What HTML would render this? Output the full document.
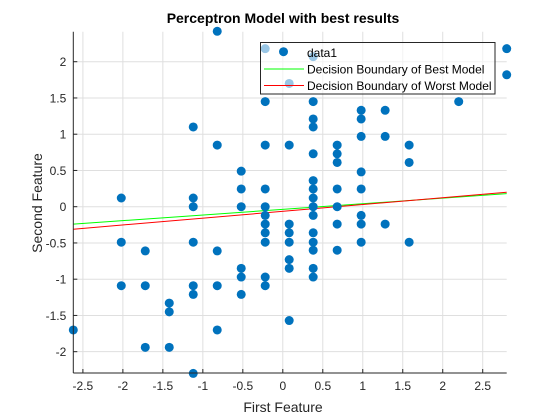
<!DOCTYPE html>
<html><head><meta charset="utf-8"><style>
body{margin:0;background:#fff;}
svg{display:block;font-family:"Liberation Sans",sans-serif;}
</style></head><body>
<svg id="chart" width="560" height="420">
<rect width="560" height="420" fill="#fff"/>
<g id="grid"></g>
<g id="lines"></g>
<g id="pts"></g>
<g id="axes"></g>
<text x="283" y="23" text-anchor="middle" font-size="14" font-weight="bold" fill="#000">Perceptron Model with best results</text>
<text x="283" y="412" text-anchor="middle" font-size="14" fill="#262626">First Feature</text>
<text transform="translate(42,203) rotate(-90)" text-anchor="middle" font-size="14" fill="#262626">Second Feature</text>
<g id="legend">
<rect x="260.5" y="42.5" width="234.5" height="51.5" fill="#fff" fill-opacity="0.6" stroke="#262626" stroke-width="1"/>
<circle cx="283.5" cy="51.7" r="4.5" fill="#0072BD"/>
<text x="307" y="57" font-size="12" fill="#000">data1</text>
<line x1="264" y1="69" x2="304" y2="69" stroke="#00ff00" stroke-width="1"/>
<text x="307" y="73.5" font-size="12" fill="#000">Decision Boundary of Best Model</text>
<line x1="264" y1="85.5" x2="304" y2="85.5" stroke="#ff0000" stroke-width="1"/>
<text x="307" y="90" font-size="12" fill="#000">Decision Boundary of Worst Model</text>
</g>
</svg>
<script>
const xTicks=[-2.5,-2,-1.5,-1,-0.5,0,0.5,1,1.5,2,2.5];
const xTickLabels=["-2.5","-2","-1.5","-1","-0.5","0","0.5","1","1.5","2","2.5"];
const yTicks=[-2,-1.5,-1,-0.5,0,0.5,1,1.5,2];
const yTickLabels=["-2","-1.5","-1","-0.5","0","0.5","1","1.5","2"];
const xs=[-0.82,-0.22,0.08,0.38,-1.12,-0.82,-0.22,0.08,-0.22,-0.52,-0.52,-0.22,-2.02,-1.12,-1.12,-0.52,-0.22,-0.22,
-2.02,-1.72,-1.12,-0.82,-0.52,-0.52,-0.52,-0.22,-0.22,-0.22,-0.22,-0.22,0.08,0.08,0.08,0.08,0.08,0.08,
-2.02,-1.72,-1.12,-1.12,-0.82,-1.42,-1.42,-2.62,-0.82,-1.72,-1.42,-1.12,
2.8,2.8,2.2,0.38,0.38,0.38,0.38,0.98,0.98,0.98,1.28,1.28,0.68,0.68,0.68,1.58,1.58,0.98,
0.38,0.38,0.38,0.38,0.38,0.68,0.68,0.98,0.38,0.38,0.38,0.38,0.38,0.68,0.68,0.98,0.98,0.98,1.28,1.58];
const ys=[2.42,2.18,1.70,2.07,1.10,0.85,0.85,0.85,1.45,0.49,0.245,0.245,0.12,0.12,0,0,0,-0.12,
-0.49,-0.61,-0.49,-0.61,-0.85,-0.97,-1.21,-0.24,-0.36,-0.49,-0.97,-1.09,-0.24,-0.36,-0.49,-0.73,-0.85,-1.57,
-1.09,-1.09,-1.09,-1.21,-1.09,-1.33,-1.45,-1.70,-1.70,-1.94,-1.94,-2.30,
2.18,1.82,1.45,1.45,1.21,1.10,0.73,1.33,1.21,0.97,1.33,0.97,0.85,0.73,0.61,0.85,0.61,0.48,
0.36,0.245,0.12,0,-0.12,0.245,0,0.245,-0.36,-0.49,-0.60,-0.85,-0.97,-0.24,-0.60,-0.12,-0.24,-0.49,-0.24,-0.49];
const lineNames=["best","worst"];
const lineSlopes=[0.0775,0.094];
const lineIntercepts=[-0.037,-0.064];
const lineColors=["#00ff00","#ff0000"];

const X0=73.3,X1=506.7,Y0=31.7,Y1=373;
const xmin=-2.62,xmax=2.8,ymin=-2.294,ymax=2.414;
const sx=v=>X0+(v-xmin)/(xmax-xmin)*(X1-X0);
const sy=v=>Y1-(v-ymin)/(ymax-ymin)*(Y1-Y0);
const NS="http://www.w3.org/2000/svg";
function mk(tag,attrs,parent){const e=document.createElementNS(NS,tag);for(const k in attrs)e.setAttribute(k,attrs[k]);parent.appendChild(e);return e;}
const grid=document.getElementById('grid'),axes=document.getElementById('axes');
xTicks.forEach((t,i)=>{
 const x=sx(t);
 const g=mk('line',{x1:x,x2:x,y1:Y0,y2:Y1,stroke:'#dfdfdf','stroke-width':1},grid);
 
 
 const tk=mk('line',{x1:x,x2:x,y1:Y1,y2:Y1-4,stroke:'#262626','stroke-width':1},axes);
 
 
 const tx=mk('text',{x:x,y:Y1+17,'text-anchor':'middle','font-size':12,fill:'#262626'},axes);
 tx.textContent=xTickLabels[i];
 
 
});
yTicks.forEach((t,i)=>{
 const y=sy(t);
 const g=mk('line',{x1:X0,x2:X1,y1:y,y2:y,stroke:'#dfdfdf','stroke-width':1},grid);
 
 
 const tk=mk('line',{x1:X0,x2:X0+4,y1:y,y2:y,stroke:'#262626','stroke-width':1},axes);
 
 
 const tx=mk('text',{x:X0-7,y:y+4.5,'text-anchor':'end','font-size':12,fill:'#262626'},axes);
 tx.textContent=yTickLabels[i];
 
 
});
const xa=mk('line',{x1:X0,x2:X1,y1:Y1,y2:Y1,stroke:'#262626','stroke-width':1},axes);


const ya=mk('line',{x1:X0,x2:X0,y1:Y0,y2:Y1,stroke:'#262626','stroke-width':1},axes);


const lg=document.getElementById('lines');
lineNames.forEach((n,i)=>{
 const l=mk('line',{x1:sx(xmin),x2:sx(xmax),y1:sy(lineIntercepts[i]+lineSlopes[i]*xmin),y2:sy(lineIntercepts[i]+lineSlopes[i]*xmax),stroke:lineColors[i],'stroke-width':1},lg);
 
 
});
const pg=document.getElementById('pts');
xs.forEach((x,i)=>{
 const c=mk('circle',{cx:sx(x),cy:sy(ys[i]),r:4.5,fill:'#0072BD'},pg);
 
 
});
</script>
</body></html>
